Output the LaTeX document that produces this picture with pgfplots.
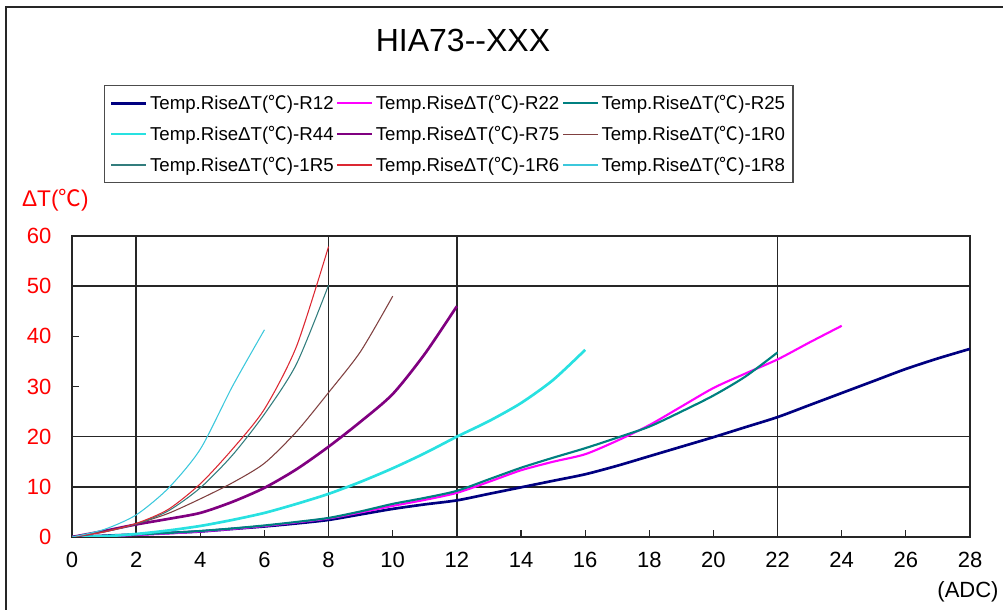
\documentclass[border=0pt]{standalone}
\usepackage{fontspec}
\setmainfont{Liberation Sans}
\newfontfamily\cjk{Noto Sans CJK SC}
\usepackage{pgfplots}
\pgfplotsset{compat=1.18}
\newcommand{\degC}{{\cjk ℃}}
\definecolor{cR12}{RGB}{0,0,128}
\definecolor{cR22}{RGB}{255,0,255}
\definecolor{cR25}{RGB}{0,128,128}
\definecolor{cR44}{RGB}{40,225,225}
\definecolor{cR75}{RGB}{128,0,128}
\definecolor{c1R0}{RGB}{128,64,64}
\definecolor{c1R5}{RGB}{50,125,125}
\definecolor{c1R6}{RGB}{220,40,50}
\definecolor{c1R8}{RGB}{60,200,220}
\begin{document}
\begin{tikzpicture}
\begin{axis}[
  at={(54pt,54.75pt)}, anchor=south west,
  scale only axis, width=673.5pt, height=225.75pt,
  xmin=0, xmax=28, ymin=0, ymax=60,
  xtick={0,2,...,28}, ytick={0,10,...,60},
  tick align=inside, xtick pos=left, ytick pos=left,
  major tick length=5pt,
  axis line style={line width=1.1pt, black!85},
  tick style={line width=0.8pt, black!85},
  major grid style={line width=1.2pt, black!85},
  extra x ticks={2,8,12,22}, extra x tick labels={},
  extra x tick style={grid=major},
  extra y ticks={10,20,50}, extra y tick labels={},
  extra y tick style={grid=major},
  /pgf/number format/assume math mode=true,
  xticklabel style={font=\fontsize{16.5}{18}\selectfont, yshift=-8pt},
  yticklabel style={font=\fontsize{16.5}{18}\selectfont, text=red, xshift=-12pt},
  legend columns=3,
  legend cell align=left,
  legend style={at={(0.0356,1.5017)}, anchor=north west, draw=black!70, line width=1.1pt,
    font=\fontsize{14}{16}\selectfont, inner xsep=4pt, inner ysep=5pt, row sep=7pt,
    /tikz/every even column/.append style={column sep=0pt}},
  legend image code/.code={\draw[#1] (0pt,0pt) -- (26pt,0pt);},
  every axis plot/.append style={smooth, tension=0.45},
]
\addplot[cR12, line width=2pt] coordinates {(0,0)(1,0.25)(2,0.5)(3,0.8)(4,1.1)(5,1.6)(6,2.1)(7,2.7)(8,3.4)(9,4.5)(10,5.6)(11,6.5)(12,7.3)(13,8.6)(14,9.9)(15,11.2)(16,12.5)(17,14.2)(18,16.1)(19,18)(20,19.9)(21,21.9)(22,23.9)(23,26.3)(24,28.7)(25,31.1)(26,33.5)(27,35.6)(28,37.5)};
\addlegendentry{Temp.RiseΔT(\degC)-R12}
\addplot[cR22, line width=1.6pt] coordinates {(0,0)(1,0.15)(2,0.4)(3,0.7)(4,1.1)(5,1.6)(6,2.2)(7,2.9)(8,3.7)(9,4.9)(10,6.2)(11,7.4)(12,8.8)(13,11)(14,13.3)(15,15)(16,16.5)(17,19.2)(18,22.3)(19,26)(20,29.7)(21,32.6)(22,35.4)(23,38.8)(24,42.1)};
\addlegendentry{Temp.RiseΔT(\degC)-R22}
\addplot[cR25, line width=1.6pt] coordinates {(0,0)(1,0.2)(2,0.5)(3,0.8)(4,1.2)(5,1.7)(6,2.3)(7,3)(8,3.8)(9,5.1)(10,6.6)(11,7.8)(12,9.2)(13,11.5)(14,13.8)(15,15.8)(16,17.7)(17,19.8)(18,22)(19,25)(20,28.2)(21,32)(22,36.8)};
\addlegendentry{Temp.RiseΔT(\degC)-R25}
\addplot[cR44, line width=2pt, legend image post style={line width=0.9pt}] coordinates {(0,0)(1,0.15)(2,0.6)(3,1.3)(4,2.2)(5,3.4)(6,4.8)(7,6.6)(8,8.6)(9,11)(10,13.7)(11,16.7)(12,20)(13,23.1)(14,26.7)(15,31.3)(16,37.3)};
\addlegendentry{Temp.RiseΔT(\degC)-R44}
\addplot[cR75, line width=2pt, legend image post style={line width=0.9pt}] coordinates {(0,0)(1,1.2)(2,2.5)(3,3.6)(4,4.8)(5,7)(6,9.8)(7,13.5)(8,18)(9,23)(10,28.5)(11,36.5)(12,46)};
\addlegendentry{Temp.RiseΔT(\degC)-R75}
\addplot[c1R0, line width=0.8pt] coordinates {(0,0)(1,1.1)(2,2.6)(3,4.7)(4,7.6)(5,10.8)(6,14.7)(7,21)(8,28.8)(9,37)(10,48)};
\addlegendentry{Temp.RiseΔT(\degC)-1R0}
\addplot[c1R5, line width=0.8pt] coordinates {(0,0)(1,1)(2,2.6)(3,5.2)(4,9.8)(5,16.3)(6,24.5)(7,34.5)(8,50.2)};
\addlegendentry{Temp.RiseΔT(\degC)-1R5}
\addplot[c1R6, line width=0.8pt] coordinates {(0,0)(1,1)(2,2.7)(3,5.5)(4,10.6)(5,17.5)(6,25.5)(7,38)(8,57.9)};
\addlegendentry{Temp.RiseΔT(\degC)-1R6}
\addplot[c1R8, line width=0.8pt] coordinates {(0,0)(1,1.5)(2,4.4)(3,9.7)(4,17.5)(5,30)(6,41.3)};
\addlegendentry{Temp.RiseΔT(\degC)-1R8}
\end{axis}
\node[font=\fontsize{24}{28}\selectfont] at (347.25pt,427.5pt) {HIA73-{}-XXX};
\node[anchor=west, text=red, font=\fontsize{17}{20}\selectfont] at (13pt,307.5pt) {ΔT(\degC)};
\node[font=\fontsize{16.5}{20}\selectfont] at (726pt,13.5pt) {(ADC)};
\draw[line width=1pt, black!85] (4.5pt,0pt) -- (4.5pt,452.25pt) -- (752.25pt,452.25pt);
\pgfresetboundingbox
\useasboundingbox (0pt,0pt) rectangle (752.25pt,457.5pt);
\end{tikzpicture}
\end{document}
